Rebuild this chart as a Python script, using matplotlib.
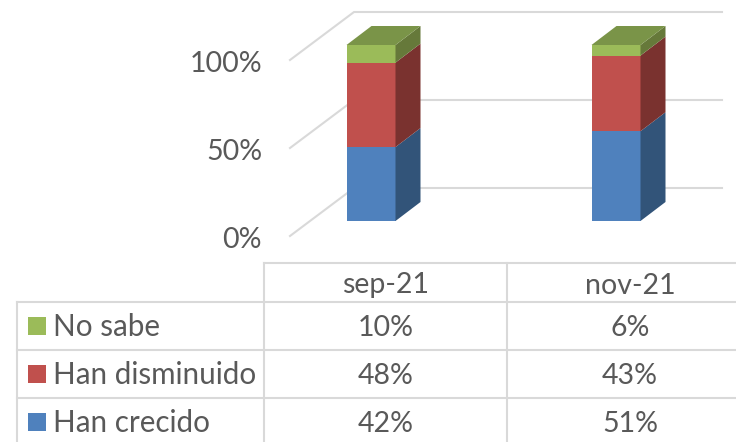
import matplotlib
matplotlib.use('Agg')
import matplotlib.pyplot as plt
from matplotlib.patches import Polygon, Rectangle

# Data
months = ['sep-21', 'nov-21']
series = ['Han crecido', 'Han disminuido', 'No sabe']
crecido = [42, 51]
disminuido = [48, 43]
no_sabe = [10, 6]
ticks = [0, 50, 100]

front = ['#4F81BD', '#C0504D', '#9BBB59']
side = ['#325479', '#7A322F', '#66793A']
top_color = '#7A9448'
grid_color = '#D9D9D9'
text_color = '#595959'

plt.rcParams['font.family'] = ['Lato', 'DejaVu Sans']
fig = plt.figure(figsize=(7.36, 4.42), dpi=100)

# Chart axes: x in category units, y in percent, filling the whole figure
ax = fig.add_axes([0, 0, 1, 1])
ax.set_xlim(-371 / 245, 365 / 245)
ax.set_ylim(-221 / 1.76, 221 / 1.76)
ax.axis('off')

dx = 25 / 245     # depth of the bars
dy = 19 / 1.76
wall_dx = 64 / 245
wall_dy = 48 / 1.76
half = 24.5 / 245

for t in ticks:
    left = (-81 / 245, t - 15 / 1.76)
    corner = (left[0] + wall_dx, left[1] + wall_dy)
    ax.plot([left[0], corner[0], 351 / 245], [left[1], corner[1], corner[1]],
            color=grid_color, lw=1.5, zorder=1)
    ax.text(-109 / 245, left[1] - 1 / 1.76, f'{t}%', color=text_color, fontsize=20.5,
            ha='right', va='center_baseline')

for i in range(len(months)):
    bottom = 0
    values = [crecido[i], disminuido[i], no_sabe[i]]
    for j, v in enumerate(values):
        ax.add_patch(Rectangle((i - half, bottom), 2 * half, v, fc=front[j], ec='none', zorder=3))
        ax.add_patch(Polygon([(i + half, bottom), (i + half + dx, bottom + dy),
                              (i + half + dx, bottom + v + dy), (i + half, bottom + v)],
                             fc=side[j], ec='none', zorder=3))
        bottom += v
    ax.add_patch(Polygon([(i - half, bottom), (i - half + dx, bottom + dy),
                          (i + half + dx, bottom + dy), (i + half, bottom)],
                         fc=top_color, ec='none', zorder=3))

# Data table underneath, in pixels
tb = fig.add_axes([0, 0, 1, 1])
tb.set_xlim(0, 736)
tb.set_ylim(442, 0)
tb.axis('off')
tb.patch.set_alpha(0)

for x0, x1, y in [(264, 736, 263), (17, 736, 302), (17, 736, 350), (17, 736, 398)]:
    tb.plot([x0, x1], [y, y], color=grid_color, lw=1.5)
for x, y0 in [(17, 302), (264, 263), (507, 263)]:
    tb.plot([x, x], [y0, 442], color=grid_color, lw=1.5)

col_x = [386, 630]
for i, m in enumerate(months):
    tb.text(col_x[i], 283, m, color=text_color, fontsize=20.5, ha='center', va='center_baseline')
    tb.text(col_x[i], 326, f'{no_sabe[i]}%', color=text_color, fontsize=20.5, ha='center', va='center_baseline')
    tb.text(col_x[i], 374, f'{disminuido[i]}%', color=text_color, fontsize=20.5, ha='center', va='center_baseline')
    tb.text(col_x[i], 422, f'{crecido[i]}%', color=text_color, fontsize=20.5, ha='center', va='center_baseline')

for name, color, y in zip(series, front, [422, 374, 326]):
    tb.add_patch(Rectangle((28, y - 9), 18, 18, fc=color, ec='none'))
    tb.text(53, y - 1, name, color=text_color, fontsize=21.3, ha='left', va='center_baseline')

fig.savefig('out.png', dpi=100)
